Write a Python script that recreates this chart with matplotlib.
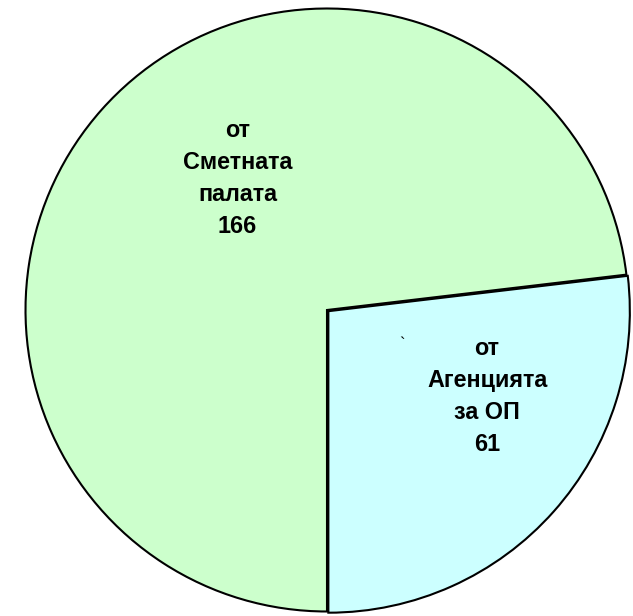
import matplotlib.pyplot as plt

# pie data
labels = ['от\nАгенцията\nза ОП\n61', 'от\nСметната\nпалата\n166']
values = [61, 166]
colors = ['#CCFFFF', '#CCFFCC']

plt.rcParams['font.family'] = ['Liberation Sans', 'DejaVu Sans']

fig = plt.figure(figsize=(6.33, 6.16), dpi=100)
ax = fig.add_axes([24 / 633, 3 / 616, 606 / 633, 606 / 616])

wedges, _ = ax.pie(values, colors=colors, startangle=-90, counterclock=True,
                   explode=[0.006, 0], radius=1,
                   wedgeprops=dict(edgecolor='black', linewidth=1.5))
ax.set_xlim(-1.005, 1.005)
ax.set_ylim(-1.005, 1.005)
ax.set_aspect('auto')
ax.axis('off')

# slice labels
ax.text(0.531, -0.287, labels[0], ha='center', va='center', fontsize=16.8,
        fontweight='bold', linespacing=1.5)
ax.text(-0.297, 0.436, labels[1], ha='center', va='center', fontsize=16.8,
        fontweight='bold', linespacing=1.5)
ax.text(0.248, -0.116, '`', ha='center', va='center', fontsize=12)

fig.savefig('out.png', dpi=100)
